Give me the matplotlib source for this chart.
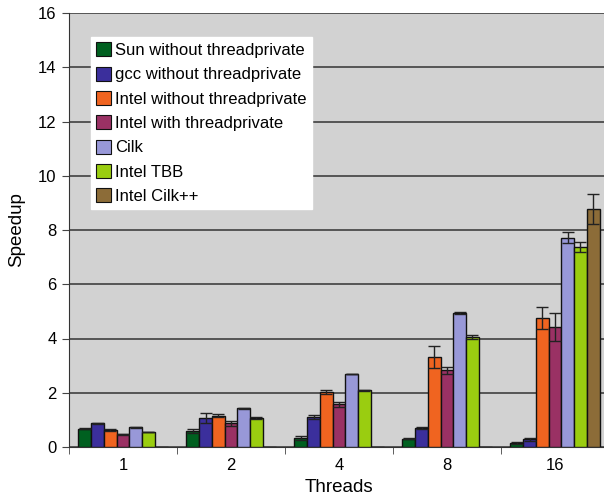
import matplotlib
matplotlib.use("Agg")
import matplotlib.pyplot as plt
import numpy as np

plt.rcParams["font.family"] = ["Liberation Sans", "DejaVu Sans"]

# ── Data ──────────────────────────────────────────────────────────────────────
threads = ["1", "2", "4", "8", "16"]
series = [
    "Sun without threadprivate",
    "gcc without threadprivate",
    "Intel without threadprivate",
    "Intel with threadprivate",
    "Cilk",
    "Intel TBB",
    "Intel Cilk++",
]
sun_vals       = [0.67, 0.59, 0.32, 0.30, 0.15]
sun_err        = [0.02, 0.07, 0.08, 0.02, 0.03]
gcc_vals       = [0.88, 1.07, 1.11, 0.70, 0.28]
gcc_err        = [0.02, 0.18, 0.08, 0.03, 0.05]
intel_vals     = [0.63, 1.16, 2.03, 3.33, 4.76]
intel_err      = [0.03, 0.07, 0.08, 0.40, 0.40]
intel_tp_vals  = [0.47, 0.87, 1.57, 2.83, 4.42]
intel_tp_err   = [0.02, 0.08, 0.10, 0.13, 0.52]
cilk_vals      = [0.72, 1.42, 2.69, 4.93, 7.71]
cilk_err       = [0.01, 0.01, 0.01, 0.03, 0.20]
tbb_vals       = [0.55, 1.07, 2.09, 4.06, 7.38]
tbb_err        = [0.01, 0.02, 0.02, 0.06, 0.19]
cilkpp_vals    = [0.0, 0.0, 0.0, 0.0, 8.77]
cilkpp_err     = [0.0, 0.0, 0.0, 0.0, 0.55]

values = [sun_vals, gcc_vals, intel_vals, intel_tp_vals, cilk_vals, tbb_vals, cilkpp_vals]
errors = [sun_err, gcc_err, intel_err, intel_tp_err, cilk_err, tbb_err, cilkpp_err]
colors = ["#006020", "#3b2f9c", "#f06420", "#9a3164", "#9898d8", "#9acd10", "#8c6c38"]

# ── Figure ────────────────────────────────────────────────────────────────────
fig = plt.figure(figsize=(6.04, 5.01), dpi=100)
ax = fig.add_axes([69 / 604, 1 - 447 / 501, 540 / 604, 434 / 501])
ax.set_facecolor("#d2d2d2")

x = np.arange(len(threads))
width = 0.118
n = len(series)
for i, (name, vals, errs, col) in enumerate(zip(series, values, errors, colors)):
    offs = (i - (n - 1) / 2) * width
    ax.bar(x + offs, vals, width, color=col, edgecolor="#111111", linewidth=1.0,
           label=name, zorder=3)
    errs = np.array(errs)
    mask = errs > 0
    ax.errorbar((x + offs)[mask], np.array(vals)[mask], yerr=errs[mask], fmt="none",
                ecolor="#222222", elinewidth=1.0, capsize=4, capthick=1.0, zorder=4)

ax.set_ylim(0, 16)
ax.set_yticks(np.arange(0, 17, 2))
ax.set_xlim(-0.5, len(threads) - 0.5)
ax.set_xticks(x)
ax.set_xticklabels(threads)
ax.set_xticks(np.arange(-0.5, len(threads), 1), minor=True)
ax.tick_params(axis="x", which="major", length=0, labelsize=12, pad=8)
ax.tick_params(axis="x", which="minor", length=5, color="#444444")
ax.tick_params(axis="y", length=5, labelsize=12, color="#444444", pad=4)

ax.yaxis.grid(True, color="#333333", linewidth=1.1, zorder=0)
ax.set_axisbelow(True)
for s in ["top", "right"]:
    ax.spines[s].set_visible(False)
ax.spines["left"].set_color("#333333")
ax.spines["bottom"].set_color("#333333")

ax.set_xlabel("Threads", fontsize=13.5, labelpad=4)
ax.set_ylabel("Speedup", fontsize=13.5, labelpad=9)

leg = ax.legend(loc="upper left", bbox_to_anchor=(22 / 540, 410 / 434), fontsize=12,
                frameon=True, fancybox=False, framealpha=1.0, edgecolor="white",
                handlelength=0.9, handleheight=0.9, handletextpad=0.2,
                labelspacing=0.52, borderpad=0.32, borderaxespad=0)
for h in leg.legend_handles:
    h.set_linewidth(0.8)

plt.savefig("out.png", dpi=100)
plt.close()
